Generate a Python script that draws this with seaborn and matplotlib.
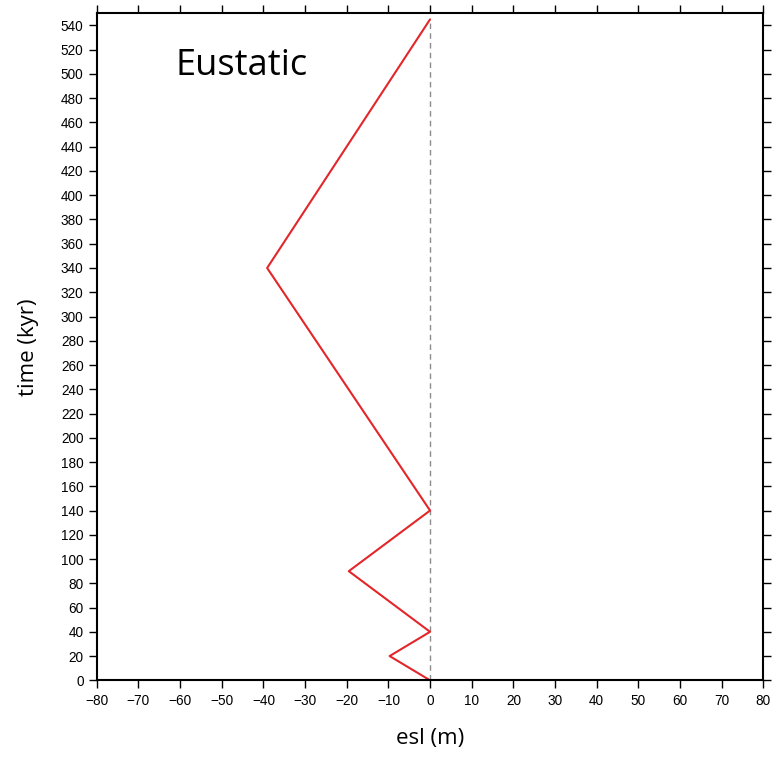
import matplotlib
matplotlib.use("Agg")
import matplotlib.pyplot as plt
import seaborn as sns
import numpy as np
import pandas as pd

# data
time_kyr = [0, 20, 40, 90, 140, 340, 545]
esl_m = [0, -9.7, 0, -19.5, 0, -39.1, 0]
x_ticks = list(range(-80, 81, 10))
y_ticks = list(range(0, 541, 20))
title_text = "Eustatic"

sns.set_theme(style="white")
plt.rcParams['font.family'] = ['Liberation Sans', 'DejaVu Sans']
plt.rcParams['text.color'] = 'black'
plt.rcParams['axes.labelcolor'] = 'black'
plt.rcParams['xtick.color'] = 'black'
plt.rcParams['ytick.color'] = 'black'

df = pd.DataFrame({"time": time_kyr, "esl": esl_m})

fig = plt.figure(figsize=(7.75, 7.57), dpi=100)
ax = fig.add_axes([0.1248, 0.1013, 0.985 - 0.1248, 0.9824 - 0.1013])

ax.vlines(0, min(time_kyr), max(time_kyr), colors="#8c8c8c", linestyles=(0, (4, 3)), linewidth=1.0, zorder=1)
sns.lineplot(data=df, x="esl", y="time", sort=False, estimator=None, color="#e3262a", linewidth=1.5, ax=ax, zorder=2)

ax.set_xlim(-80, 80)
ax.set_ylim(0, 550)
ax.set_xticks(x_ticks)
ax.set_yticks(y_ticks)
ax.tick_params(axis="both", which="both", direction="out", length=6, width=1.0, colors="black",
               labelsize=9.8, top=True, right=True, bottom=True, left=True,
               labeltop=False, labelright=False, pad=3.5)
for s in ax.spines.values():
    s.set_visible(True)
    s.set_color("black")
    s.set_linewidth(1.5)

label_font = ['Open Sans', 'DejaVu Sans']
ax.set_xlabel("esl (m)", fontsize=16, labelpad=15, color="black", family=label_font)
ax.set_ylabel("time (kyr)", fontsize=16, labelpad=16, color="black", family=label_font)
ax.text(-61, 499, title_text, fontsize=26, color="black", ha="left", va="baseline", family=label_font)

fig.savefig("out.png", dpi=100)
